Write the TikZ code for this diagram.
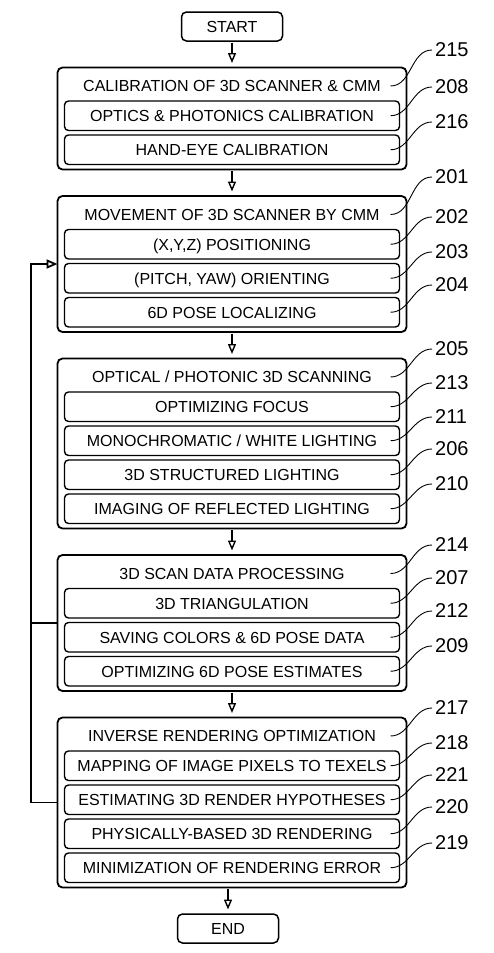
\documentclass[tikz,border=0pt]{standalone}
\usepackage{fontspec}
\setmainfont{Liberation Sans}
\usetikzlibrary{positioning,fit,arrows.meta}
\begin{document}
\begin{tikzpicture}[x=1pt,y=-1pt,font=\fontsize{16}{19}\selectfont,node distance=4.5pt,
  termbox/.style={draw,line width=1.5pt,rounded corners=5pt,minimum width=101pt,minimum height=29pt,inner sep=0pt,outer sep=0pt,text height=11.5pt,text depth=0pt},
  headline/.style={minimum width=335pt,minimum height=27pt,inner sep=0pt,outer sep=0pt,text height=11.5pt,text depth=0pt},
  subbox/.style={draw,line width=1.4pt,rounded corners=4pt,minimum width=335pt,minimum height=29.5pt,inner sep=0pt,outer sep=0pt,text height=11.5pt,text depth=0pt},
  mainbox/.style={draw,line width=1.8pt,rounded corners=5pt,inner xsep=7pt,inner ysep=5pt,outer sep=0pt},
  refnum/.style={anchor=west,inner sep=3pt,font=\fontsize{20}{24}\selectfont},
  leader/.style={line width=0.9pt},
  flowarrow/.style={-{Triangle[open,length=10pt,width=8pt]},line width=1.4pt,shorten <=1.5pt,shorten >=4.5pt},
  loopline/.style={line width=1.8pt}]
\useasboundingbox (0,0) rectangle (493,953);
\node[termbox] (start) at (232,26.5) {START};
\node[headline,below=31.5pt of start] (b215) {CALIBRATION OF 3D SCANNER \& CMM};
\node[subbox,below=1.5pt of b215] (b208) {OPTICS \& PHOTONICS CALIBRATION};
\node[subbox,below=of b208] (b216) {HAND-EYE CALIBRATION};
\node[mainbox,fit=(b215)(b216)] (o215) {};
\node[headline,below=31.5pt of o215] (b201) {MOVEMENT OF 3D SCANNER BY CMM};
\node[subbox,below=1.5pt of b201] (b202) {(X,Y,Z) POSITIONING};
\node[subbox,below=of b202] (b203) {(PITCH, YAW) ORIENTING};
\node[subbox,below=of b203] (b204) {6D POSE LOCALIZING};
\node[mainbox,fit=(b201)(b204)] (o201) {};
\node[headline,below=31.5pt of o201] (b205) {OPTICAL / PHOTONIC 3D SCANNING};
\node[subbox,below=1.5pt of b205] (b213) {OPTIMIZING FOCUS};
\node[subbox,below=of b213] (b211) {MONOCHROMATIC / WHITE LIGHTING};
\node[subbox,below=of b211] (b206) {3D STRUCTURED LIGHTING};
\node[subbox,below=of b206] (b210) {IMAGING OF REFLECTED LIGHTING};
\node[mainbox,fit=(b205)(b210)] (o205) {};
\node[headline,below=31.5pt of o205] (b214) {3D SCAN DATA PROCESSING};
\node[subbox,below=1.5pt of b214] (b207) {3D TRIANGULATION};
\node[subbox,below=of b207] (b212) {SAVING COLORS \& 6D POSE DATA};
\node[subbox,below=of b212] (b209) {OPTIMIZING 6D POSE ESTIMATES};
\node[mainbox,fit=(b214)(b209)] (o214) {};
\node[headline,below=31.5pt of o214] (b217) {INVERSE RENDERING OPTIMIZATION};
\node[subbox,below=1.5pt of b217] (b218) {MAPPING OF IMAGE PIXELS TO TEXELS};
\node[subbox,below=of b218] (b221) {ESTIMATING 3D RENDER HYPOTHESES};
\node[subbox,below=of b221] (b220) {PHYSICALLY-BASED 3D RENDERING};
\node[subbox,below=of b220] (b219) {MINIMIZATION OF RENDERING ERROR};
\node[mainbox,fit=(b217)(b219)] (o217) {};
\node[termbox,below=26.5pt of o217,xshift=-4pt] (end) {END};
\draw[flowarrow] (start) -- (o215);
\draw[flowarrow] (o215) -- (o201);
\draw[flowarrow] (o201) -- (o205);
\draw[flowarrow] (o205) -- (o214);
\draw[flowarrow] (o214) -- (o217);
\draw[flowarrow] (o217.south -| end) -- (end);
\coordinate (rail) at (31,0);
\draw[loopline,-{Triangle[open,length=11pt,width=9pt]}] (o217.west) -- (o217.west -| rail) |- (o201.west);
\draw[loopline] (o214.west) -- (o214.west -| rail);
\foreach \n/\y in {215/50,208/87,216/122,201/177,202/217,203/252,204/285,205/349,213/383,211/417,206/449,210/484,214/545,207/578,212/611,209/646,217/708,218/743,221/775,220/807,219/843}{
  \node[refnum] (n\n) at (432,\y) {\n};
  \draw[leader] ([xshift=-9pt]b\n.east) to[out=0,in=180] (n\n.west);
}
\end{tikzpicture}
\end{document}
